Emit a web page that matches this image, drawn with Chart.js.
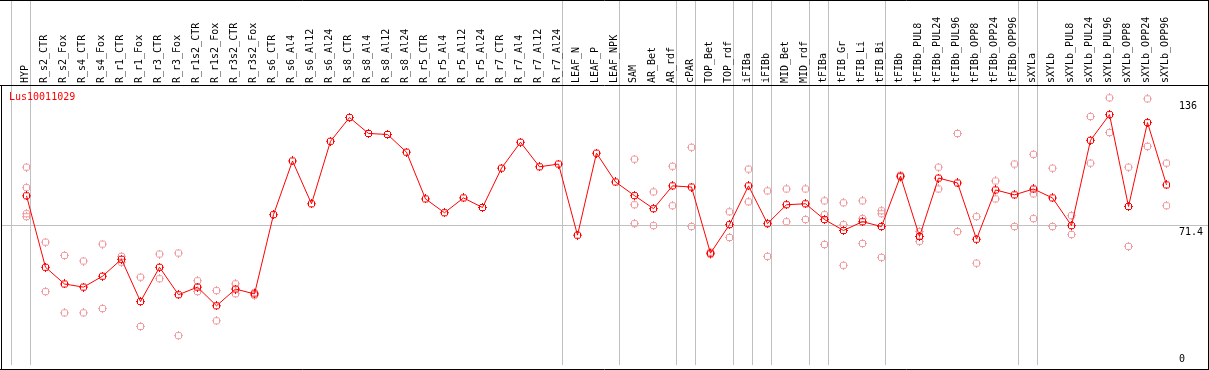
<!DOCTYPE html>
<html>
<head>
<meta charset="utf-8">
<style>
    html, body { margin: 0; padding: 0; background: #ffffff; }
    #wrap { position: relative; width: 1209px; height: 370px; }
    #gene { position: absolute; left: 9px; top: 91px; font: 10px "DejaVu Sans Mono", monospace; color: #ff0000; line-height: 12px; }
</style>
<script src="https://cdn.jsdelivr.net/npm/chart.js@4.4.1/dist/chart.umd.min.js"></script>
</head>
<body>
<div id="wrap">
    <canvas id="chart" width="1209" height="370"></canvas>
    <div id="gene">Lus10011029</div>
</div>
<script>
(function (window, document) {
    'use strict';

    var categories = [
        'HYP', 'R_s2_CTR', 'R_s2_Fox', 'R_s4_CTR', 'R_s4_Fox', 'R_r1_CTR', 'R_r1_Fox', 'R_r3_CTR', 'R_r3_Fox',
        'R_r1s2_CTR', 'R_r1s2_Fox', 'R_r3s2_CTR', 'R_r3s2_Fox', 'R_s6_CTR', 'R_s6_Al4', 'R_s6_Al12', 'R_s6_Al24',
        'R_s8_CTR', 'R_s8_Al4', 'R_s8_Al12', 'R_s8_Al24', 'R_r5_CTR', 'R_r5_Al4', 'R_r5_Al12', 'R_r5_Al24',
        'R_r7_CTR', 'R_r7_Al4', 'R_r7_Al12', 'R_r7_Al24', 'LEAF_N', 'LEAF_P', 'LEAF_NPK', 'SAM', 'AR_Bet', 'AR_rdf',
        'cPAR', 'TOP_Bet', 'TOP_rdf', 'iFIBa', 'iFIBb', 'MID_Bet', 'MID_rdf', 'tFIBa', 'tFIB_Gr', 'tFIB_Li', 'tFIB_Bi',
        'tFIBb', 'tFIBb_PUL8', 'tFIBb_PUL24', 'tFIBb_PUL96', 'tFIBb_OPP8', 'tFIBb_OPP24', 'tFIBb_OPP96',
        'sXYLa', 'sXYLb', 'sXYLb_PUL8', 'sXYLb_PUL24', 'sXYLb_PUL96', 'sXYLb_OPP8', 'sXYLb_OPP24', 'sXYLb_OPP96'
    ];

    // mean expression per sample (the red line)
    var meanValues = [
        86.9, 50.2, 41.6, 40.0, 45.6, 54.3, 32.6, 50.2, 36.1, 40.0,
        30.4, 39.0, 36.5, 77.2, 104.8, 82.8, 114.9, 127.1, 118.9, 118.4,
        109.3, 85.3, 78.2, 85.8, 80.9, 101.1, 114.4, 101.8, 103.2, 66.7,
        108.8, 94.0, 87.0, 80.3, 92.0, 91.4, 57.4, 72.1, 92.0, 72.6,
        82.3, 82.8, 74.7, 69.1, 73.6, 71.1, 97.0, 66.0, 96.0, 93.5,
        64.6, 89.9, 87.4, 90.4, 85.8, 71.6, 115.4, 128.6, 81.4, 124.5, 92.5
    ];

    // individual replicates (pale circles), null where there is none
    var repA = [
        101.6, 63.1, 56.3, 53.4, 62.1, 55.8, 45.1, 57.0, 57.5, 43.3,
        38.2, 41.7, 37.2, null, null, null, null, null, null, null,
        null, null, null, null, null, null, null, null, null, null,
        null, null, 105.7, 88.9, 102.1, 111.8, 58.0, 78.7, 100.6, 89.4,
        90.4, 90.4, 84.3, 83.3, 84.3, 79.2, 97.5, 68.5, 101.6, 118.9,
        76.2, 94.5, 103.2, 108.2, 101.1, 76.7, 127.6, 137.2, 101.6, 136.7, 103.7
    ];
    var repB = [
        91.1, 37.7, 26.8, 26.8, 29.0, 52.8, 19.8, 44.3, 15.1, 37.7,
        22.7, 36.6, 35.8, null, null, null, null, null, null, null,
        null, null, null, null, null, null, null, null, null, null,
        null, null, 82.3, 71.6, 81.8, 71.1, 56.8, 65.5, 83.8, 55.8,
        73.6, 74.7, 77.2, 72.1, 75.2, 77.7, 96.5, 63.5, 90.4, 68.5,
        52.3, 85.3, 71.1, 87.9, 71.1, 67.0, 103.7, 119.4, 60.9, 112.3, 81.8
    ];
    var repC = [
        77.7, null, null, null, null, null, null, null, null, null,
        null, null, null, null, null, null, null, null, null, null,
        null, null, null, null, null, null, null, null, null, null,
        null, null, 72.6, null, null, null, null, null, null, null,
        null, null, 61.9, 51.2, 62.4, 55.3, null, null, null, null,
        null, null, null, 75.2, null, null, null, null, null, null, null
    ];
    var repD = [
        76.2, null, null, null, null, null, null, null, null, null,
        null, null, null, null, null, null, null, null, null, null,
        null, null, null, null, null, null, null, null, null, null,
        null, null, null, null, null, null, null, null, null, null,
        null, null, null, null, null, null, null, null, null, null,
        null, null, null, null, null, null, null, null, null, null, null
    ];

    var yTickValues = [0, 71.4, 136];
    var yGuide = 71.4;

    // a separator line is drawn before each of these sample indices
    var groupBreaks = [0, 1, 29, 32, 35, 36, 38, 39, 40, 42, 43, 46, 53, 54, 61];

    var FONT = '"DejaVu Sans Mono", monospace';
    var GREY = '#c0c0c0';
    var NONE = 'rgba(0,0,0,0)';

    var MARK = [
        '....#....',
        '..#####..',
        '.#.....#.',
        '.#.....#.',
        '##.....##',
        '.#.....#.',
        '.#.....#.',
        '..#####..',
        '....#....'
    ];

    function makeMarker(color) {
        var c = document.createElement('canvas');
        c.width = MARK[0].length;
        c.height = MARK.length;
        var g = c.getContext('2d');
        g.fillStyle = color;
        MARK.forEach(function (row, y) {
            for (var x = 0; x < row.length; x++) {
                if (row.charAt(x) === '#') {
                    g.fillRect(x, y, 1, 1);
                }
            }
        });
        return c;
    }

    var framePlugin = {
        id: 'frame',
        afterDraw: function (chart) {
            var ctx = chart.ctx;
            var w = chart.width;
            var h = chart.height;
            var top = chart.chartArea.top;
            ctx.save();
            ctx.strokeStyle = '#000000';
            ctx.lineWidth = 1;
            ctx.beginPath();
            ctx.moveTo(0, 0.5);
            ctx.lineTo(w, 0.5);
            ctx.moveTo(0, top + 0.5);
            ctx.lineTo(w, top + 0.5);
            ctx.moveTo(1.5, top);
            ctx.lineTo(1.5, h);
            ctx.moveTo(w - 0.5, 0);
            ctx.lineTo(w - 0.5, h);
            ctx.moveTo(0, h - 0.5);
            ctx.lineTo(w, h - 0.5);
            ctx.stroke();
            ctx.restore();
        }
    };

    function init() {
        if (typeof Chart === 'undefined') {
            return;
        }

        var meanPoints = meanValues.map(function (v, i) {
            return { x: i, y: v };
        });
        var repPoints = [];
        [repA, repB, repC, repD].forEach(function (arr) {
            arr.forEach(function (v, i) {
                if (v !== null) {
                    repPoints.push({ x: i, y: v });
                }
            });
        });

        var breakColor = function (context) {
            return groupBreaks.indexOf(context.index) !== -1 ? GREY : NONE;
        };
        var guideColor = function (context) {
            return context.tick && context.tick.value === yGuide ? GREY : NONE;
        };
        var pointShift = 15.5 / 19;
        var yMax = 143.8;

        new Chart(document.getElementById('chart'), {
            type: 'line',
            data: {
                labels: categories,
                datasets: [
                    {
                        label: 'mean',
                        data: meanPoints,
                        xAxisID: 'xp',
                        yAxisID: 'y',
                        borderColor: '#ff0000',
                        borderWidth: 1,
                        tension: 0,
                        pointStyle: makeMarker('#ff0000'),
                        order: 0
                    },
                    {
                        label: 'replicates',
                        data: repPoints,
                        xAxisID: 'xp',
                        yAxisID: 'y',
                        showLine: false,
                        pointStyle: makeMarker('#f09ca0'),
                        order: 1
                    }
                ]
            },
            options: {
                responsive: false,
                animation: false,
                devicePixelRatio: 1,
                layout: {
                    padding: { left: 1.5, right: 0, top: 0, bottom: 2 }
                },
                plugins: {
                    legend: { display: false },
                    tooltip: { enabled: false }
                },
                scales: {
                    x: {
                        type: 'category',
                        position: 'top',
                        offset: true,
                        border: { display: false },
                        grid: {
                            offset: true,
                            color: breakColor,
                            tickColor: breakColor,
                            tickLength: 85
                        },
                        ticks: {
                            autoSkip: false,
                            minRotation: 90,
                            maxRotation: 90,
                            padding: -83,
                            labelOffset: 16.5,
                            color: '#000000',
                            font: { family: FONT, size: 10 }
                        },
                        afterFit: function (scale) {
                            scale.height = 85;
                        }
                    },
                    xp: {
                        type: 'linear',
                        display: false,
                        min: -pointShift,
                        max: categories.length - pointShift
                    },
                    y: {
                        type: 'linear',
                        position: 'right',
                        min: 0,
                        max: yMax,
                        border: { display: false },
                        afterBuildTicks: function (scale) {
                            scale.ticks = yTickValues.map(function (v) {
                                return { value: v };
                            });
                        },
                        afterFit: function (scale) {
                            scale.width = 39;
                        },
                        grid: {
                            color: guideColor,
                            tickColor: guideColor,
                            tickLength: 38
                        },
                        ticks: {
                            padding: -29,
                            color: '#000000',
                            font: { family: FONT, size: 10 },
                            callback: function (value) {
                                var text = String(value);
                                return value === 0 ? [text, ''] : ['', text];
                            }
                        }
                    },
                    yl: {
                        type: 'linear',
                        position: 'left',
                        min: 0,
                        max: yMax,
                        border: { display: false },
                        afterBuildTicks: function (scale) {
                            scale.ticks = [{ value: yGuide }];
                        },
                        afterFit: function (scale) {
                            scale.width = 9.5;
                        },
                        grid: {
                            drawOnChartArea: false,
                            color: GREY,
                            tickColor: GREY,
                            tickLength: 9.5
                        },
                        ticks: { display: false }
                    }
                }
            },
            plugins: [framePlugin]
        });
    }

    if (document.readyState === 'loading') {
        document.addEventListener('DOMContentLoaded', init);
    } else {
        init();
    }
})(window, document);
</script>
</body>
</html>
